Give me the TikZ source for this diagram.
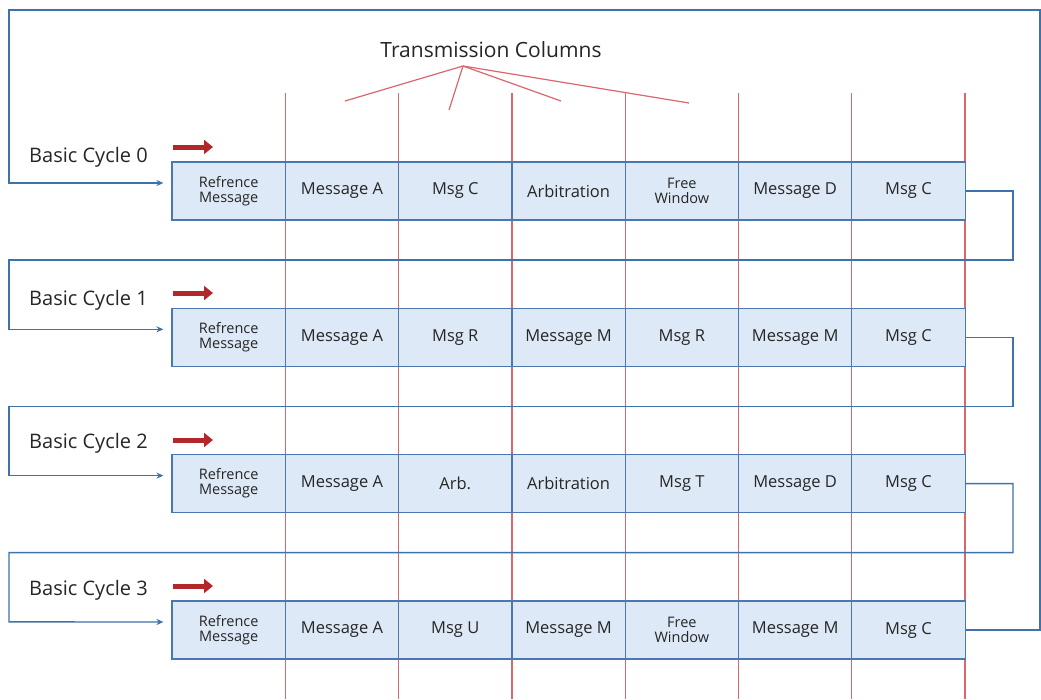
\documentclass[tikz,border=0pt]{standalone}
\usepackage{fontspec}
\setmainfont{Open Sans}
\usetikzlibrary{arrows.meta,calc}
\definecolor{cellfill}{HTML}{DDE9F6}
\definecolor{cellborder}{HTML}{4C77AE}
\definecolor{connblue}{HTML}{3D72AC}
\definecolor{colred}{HTML}{D9676B}
\definecolor{arrred}{HTML}{B3262A}
\begin{document}
\begin{tikzpicture}[x=1pt,y=-1pt,
  cell/.style={draw=cellborder, line width=1.2pt, fill=cellfill, minimum width=113.3pt,
    minimum height=58pt, inner sep=0pt, align=center, text=black!85,
    font=\fontsize{16.5}{16.5}\selectfont},
  twoline/.style={font=\fontsize{14.5}{15}\selectfont},
  connector/.style={draw=connblue, line width=1.4pt},
  inarrow/.style={connector, -{Stealth[length=7pt,width=6pt]}, shorten >=8pt},
  colline/.style={draw=colred, line width=1.3pt},
  fanline/.style={draw=colred, line width=1.2pt},
  cyclelabel/.style={anchor=west, inner sep=0pt, text=black!85, font=\fontsize{20}{20}\selectfont},
  redarrow/.style={draw=arrred, line width=5pt, -{Triangle[length=9pt,width=14pt]}},
  title/.style={inner sep=0pt, text=black!85, font=\fontsize{21}{21}\selectfont}]
\useasboundingbox (0,0) rectangle (1041,699);
\fill[white] (0,0) rectangle (1041,699);

% column lines
\foreach \i in {1,...,7} {
  \coordinate (ct\i) at ({172+113.3*\i},93);
  \coordinate (cb\i) at ({172+113.3*\i},699);
  \draw[colline] (ct\i) -- (cb\i);
}

% title and fan
\node[title] (title) at (491,50) {Transmission Columns};
\coordinate (apex) at (463,66);
\coordinate (f1) at (345,101);
\coordinate (f2) at (449,110);
\coordinate (f3) at (561,101);
\coordinate (f4) at (689,103);
\foreach \f in {f1,f2,f3,f4} \draw[fanline] (apex) -- (\f);

% rows
\foreach \r/\yy in {0/191,1/337.3,2/483.6,3/630} {
  \foreach \k/\t/\s in {0/{Refrence\\Message}/twoline,1/{Message A}/cell,6/{Msg C}/cell} {
    \node[cell,\s] (c\r\k) at ({172+113.3*(\k+0.5)},\yy) {\t};
  }
}
\foreach \k/\t/\s in {2/{Msg C}/cell,3/{Arbitration}/cell,4/{Free\\Window}/twoline,5/{Message D}/cell}
  \node[cell,\s] (c0\k) at ({172+113.3*(\k+0.5)},191) {\t};
\foreach \k/\t/\s in {2/{Msg R}/cell,3/{Message M}/cell,4/{Msg R}/cell,5/{Message M}/cell}
  \node[cell,\s] (c1\k) at ({172+113.3*(\k+0.5)},337.3) {\t};
\foreach \k/\t/\s in {2/{Arb.}/cell,3/{Arbitration}/cell,4/{Msg T}/cell,5/{Message D}/cell}
  \node[cell,\s] (c2\k) at ({172+113.3*(\k+0.5)},483.6) {\t};
\foreach \k/\t/\s in {2/{Msg U}/cell,3/{Message M}/cell,4/{Free\\Window}/twoline,5/{Message M}/cell}
  \node[cell,\s] (c3\k) at ({172+113.3*(\k+0.5)},630) {\t};

% labels and red arrows
\foreach \r/\ly/\ay in {0/157/147,1/300/293,2/443/440,3/590/586} {
  \node[cyclelabel] (lab\r) at (29,\ly) {Basic Cycle \r};
  \coordinate (ra\r) at (173,\ay);
  \coordinate (rb\r) at (213,\ay);
  \draw[redarrow] (ra\r) -- (rb\r);
}

% outer loop into cycle 0
\draw[inarrow] (c36.east) -- (1040,630) -- (1040,10) -- (9,10) -- (9,183) -- ($(c00.west)+(0,-8)$);

% links between cycles
\foreach \r/\n/\yy in {0/1/191,1/2/337.3,2/3/483.6} {
  \draw[inarrow] (c\r6.east) -- (1013,\yy) -- (1013,{\yy+69}) -- (9,{\yy+69})
     -- (9,{\yy+146.3-8}) -- ($(c\n0.west)+(0,-8)$);
}
\end{tikzpicture}
\end{document}
